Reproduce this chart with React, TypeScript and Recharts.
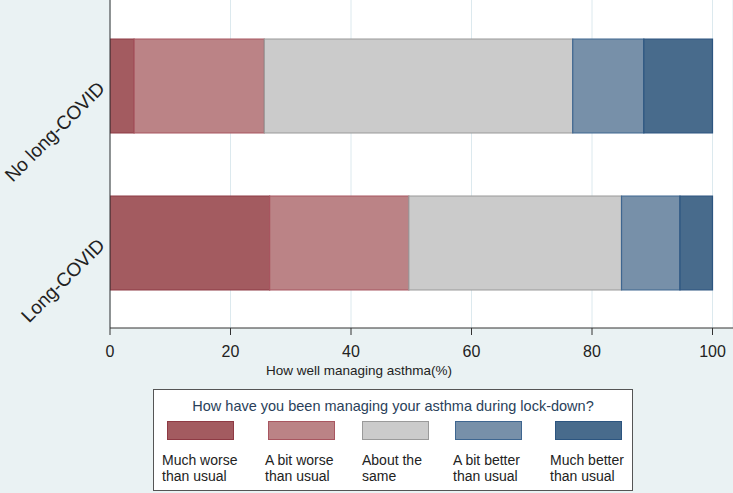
import { Bar, BarChart, CartesianGrid, Legend, XAxis, YAxis } from "recharts";

const categories = ["No long-COVID", "Long-COVID"];
const muchWorse = [4.0, 26.5];
const bitWorse = [21.6, 23.1];
const aboutSame = [51.2, 35.3];
const bitBetter = [11.8, 9.7];
const muchBetter = [11.4, 5.4];
const xTicks = [0, 20, 40, 60, 80, 100];

const seriesKeys = ["muchWorse", "bitWorse", "aboutSame", "bitBetter", "muchBetter"];
const seriesLabels = [
  ["Much worse", "than usual"],
  ["A bit worse", "than usual"],
  ["About the", "same"],
  ["A bit better", "than usual"],
  ["Much better", "than usual"],
];
const fills = ["#a35b60", "#bb8386", "#cbcbcb", "#7790a9", "#486b8c"];
const strokes = ["#8e3a44", "#a85660", "#9a9a9a", "#3e6690", "#2c5580"];

const data = categories.map((name, i) => ({
  name,
  muchWorse: muchWorse[i],
  bitWorse: bitWorse[i],
  aboutSame: aboutSame[i],
  bitBetter: bitBetter[i],
  muchBetter: muchBetter[i],
}));

const FONT = "'Liberation Sans', Arial, sans-serif";

function CategoryTick(props: any) {
  const { x, y, payload } = props;
  const tx = x + 4;
  const ty = y + 4;
  return (
    <text
      x={tx}
      y={ty}
      transform={`rotate(-45 ${tx} ${ty})`}
      textAnchor="end"
      fontSize={19}
      fontFamily={FONT}
      fill="#222"
    >
      {payload.value}
    </text>
  );
}

function LegendBox() {
  const slots = [166, 267, 361, 454, 554];
  const textX = [161, 264, 361, 452, 549];
  return (
    <div
      style={{
        position: "relative",
        width: 480,
        height: 102,
        background: "#fff",
        border: "1.5px solid #555",
        boxSizing: "border-box",
        fontFamily: FONT,
        color: "#222",
      }}
    >
      <div style={{ position: "absolute", top: 8, left: 0, width: "100%", textAlign: "center", fontSize: 14.5, color: "#2a3f5a" }}>
        How have you been managing your asthma during lock-down?
      </div>
      {seriesKeys.map((k, i) => (
        <div key={k}>
          <div
            style={{
              position: "absolute",
              left: slots[i] - 153,
              top: 31,
              width: 67,
              height: 19,
              background: fills[i],
              border: `1.5px solid ${strokes[i]}`,
              boxSizing: "border-box",
            }}
          />
          <div
            style={{
              position: "absolute",
              left: textX[i] - 153,
              top: 62,
              fontSize: 14,
              lineHeight: "16px",
              textAlign: "left",
              whiteSpace: "nowrap",
            }}
          >
            {seriesLabels[i][0]}
            <br />
            {seriesLabels[i][1]}
          </div>
        </div>
      ))}
    </div>
  );
}

export default function App() {
  return (
    <div style={{ position: "absolute", left: 0, top: 0, width: 733, height: 493, background: "#eaf2f3" }}>
      <BarChart
        width={733}
        height={493}
        data={data}
        layout="vertical"
        barSize={94}
        margin={{ top: 0, right: 0, left: 0, bottom: 0 }}
      >
        <CartesianGrid horizontal={false} stroke="#dce9ee" fill="#ffffff" />
        <XAxis
          type="number"
          domain={[0, 103.4]}
          ticks={xTicks}
          allowDataOverflow
          height={165}
          tickSize={7}
          tickMargin={11}
          stroke="#333"
          tick={{ fontSize: 16, fill: "#222", fontFamily: FONT }}
          label={{
            content: () => (
              <text x={359} y={375} textAnchor="middle" fontSize={13.5} fontFamily={FONT} fill="#222">
                How well managing asthma(%)
              </text>
            ),
          }}
        />
        <YAxis
          type="category"
          dataKey="name"
          width={110}
          tickLine={false}
          stroke="#333"
          padding={{ top: 7, bottom: 7 }}
          tick={<CategoryTick />}
        />
        <Legend
          layout="horizontal"
          verticalAlign="middle"
          align="center"
          wrapperStyle={{ position: "absolute", left: 153, top: 389, width: 480, height: 102 }}
          content={() => <LegendBox />}
        />
        {seriesKeys.map((k, i) => (
          <Bar
            key={k}
            dataKey={k}
            stackId="a"
            fill={fills[i]}
            stroke={strokes[i]}
            strokeWidth={1.2}
            isAnimationActive={false}
          />
        ))}
      </BarChart>
    </div>
  );
}
